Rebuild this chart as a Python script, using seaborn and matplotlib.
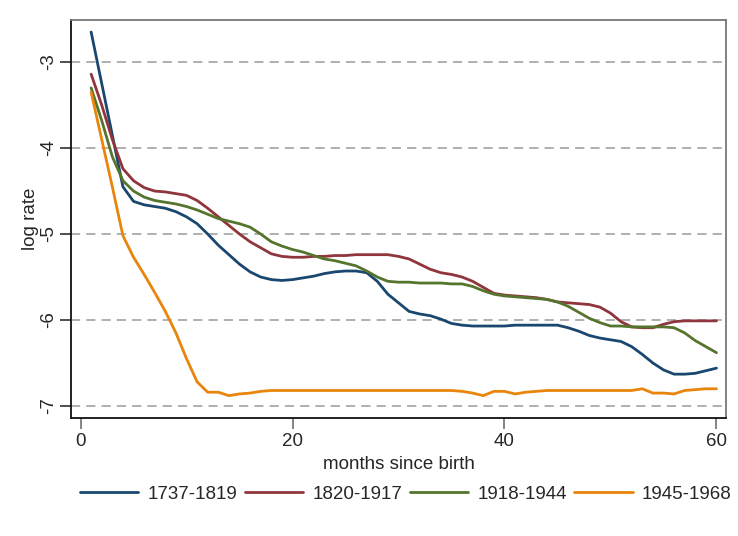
import numpy as np
import pandas as pd
import matplotlib
matplotlib.use("Agg")
import matplotlib.pyplot as plt
import seaborn as sns

months = list(range(1, 61))
series_names = ["1737-1819", "1820-1917", "1918-1944", "1945-1968"]

r1737 = [-2.65, -3.25, -3.85, -4.45, -4.62, -4.66, -4.68, -4.70, -4.74, -4.80,
         -4.88, -5.00, -5.13, -5.24, -5.35, -5.44, -5.50, -5.53, -5.54, -5.53,
         -5.51, -5.49, -5.46, -5.44, -5.43, -5.43, -5.45, -5.55, -5.70, -5.80,
         -5.90, -5.93, -5.95, -5.99, -6.04, -6.06, -6.07, -6.07, -6.07, -6.07,
         -6.06, -6.06, -6.06, -6.06, -6.06, -6.09, -6.13, -6.18, -6.21, -6.23,
         -6.25, -6.31, -6.40, -6.50, -6.58, -6.63, -6.63, -6.62, -6.59, -6.56]
r1820 = [-3.14, -3.50, -3.90, -4.24, -4.38, -4.46, -4.50, -4.51, -4.53, -4.55,
         -4.61, -4.70, -4.80, -4.90, -5.00, -5.09, -5.16, -5.23, -5.26, -5.27,
         -5.27, -5.26, -5.26, -5.25, -5.25, -5.24, -5.24, -5.24, -5.24, -5.26,
         -5.29, -5.35, -5.41, -5.45, -5.47, -5.50, -5.55, -5.62, -5.69, -5.71,
         -5.72, -5.73, -5.74, -5.76, -5.79, -5.80, -5.81, -5.82, -5.85, -5.92,
         -6.02, -6.08, -6.09, -6.09, -6.05, -6.02, -6.01, -6.01, -6.01, -6.01]
r1918 = [-3.30, -3.68, -4.10, -4.38, -4.50, -4.57, -4.61, -4.63, -4.65, -4.68,
         -4.72, -4.77, -4.82, -4.85, -4.88, -4.92, -5.00, -5.09, -5.14, -5.18,
         -5.21, -5.25, -5.29, -5.31, -5.34, -5.37, -5.43, -5.50, -5.55, -5.56,
         -5.56, -5.57, -5.57, -5.57, -5.58, -5.58, -5.61, -5.66, -5.70, -5.72,
         -5.73, -5.74, -5.75, -5.76, -5.79, -5.84, -5.91, -5.98, -6.03, -6.07,
         -6.07, -6.08, -6.08, -6.08, -6.08, -6.09, -6.15, -6.24, -6.31, -6.38]
r1945 = [-3.35, -3.90, -4.45, -5.02, -5.27, -5.47, -5.68, -5.90, -6.15, -6.45,
         -6.72, -6.84, -6.84, -6.88, -6.86, -6.85, -6.83, -6.82, -6.82, -6.82,
         -6.82, -6.82, -6.82, -6.82, -6.82, -6.82, -6.82, -6.82, -6.82, -6.82,
         -6.82, -6.82, -6.82, -6.82, -6.82, -6.83, -6.85, -6.88, -6.83, -6.83,
         -6.86, -6.84, -6.83, -6.82, -6.82, -6.82, -6.82, -6.82, -6.82, -6.82,
         -6.82, -6.82, -6.80, -6.85, -6.85, -6.86, -6.82, -6.81, -6.80, -6.80]

x_ticks = [0, 20, 40, 60]
y_ticks = [-3, -4, -5, -6, -7]
colors = ["#1a476f", "#90353b", "#55752f", "#e8850a"]

df = pd.concat([
    pd.DataFrame({"month": months, "rate": vals, "cohort": name})
    for name, vals in zip(series_names, [r1737, r1820, r1918, r1945])
], ignore_index=True)

sns.set_style("white")
plt.rcParams["font.family"] = ["Liberation Sans", "DejaVu Sans"]
FS = 13.5

fig = plt.figure(figsize=(7.38, 5.36), dpi=100)
ax = fig.add_axes([71/738, 1 - 418/536, (726 - 71)/738, (418 - 20)/536])

sns.lineplot(data=df, x="month", y="rate", hue="cohort", hue_order=series_names,
             palette=colors, linewidth=2.0, ax=ax, legend=True)

ax.set_xlim(-0.9, 60.9)
ax.set_ylim(-7.14, -2.51)
ax.set_xticks(x_ticks)
ax.set_xticklabels([str(t) for t in x_ticks], fontsize=FS)
ax.set_yticks(y_ticks)
ax.set_yticklabels([str(t) for t in y_ticks], fontsize=FS, rotation=90, va="center")
for y in y_ticks:
    ax.axhline(y, color="#9a9a9a", linestyle=(0, (6, 4)), linewidth=1.1, zorder=0)

ax.tick_params(axis="both", direction="out", length=8, width=1.2, pad=3,
               bottom=True, left=True)
ax.tick_params(axis="x", color="#707070")
ax.tick_params(axis="y", color="#303030", pad=2)
ax.set_xlabel("months since birth", fontsize=FS, labelpad=4)
ax.set_ylabel("log rate", fontsize=FS, labelpad=1)

for side in ["left", "bottom"]:
    ax.spines[side].set_color("#111111")
    ax.spines[side].set_linewidth(1.3)
for side in ["top", "right"]:
    ax.spines[side].set_color("#777777")
    ax.spines[side].set_linewidth(1.3)

handles, labels = ax.get_legend_handles_labels()
ax.get_legend().remove()
fig.legend(handles, labels, loc="center", bbox_to_anchor=(406/738, 1 - 494/536),
           ncol=4, frameon=False, fontsize=FS, handlelength=3.1,
           columnspacing=0.4, handletextpad=0.5, borderpad=0, borderaxespad=0)

fig.savefig("out.png", dpi=100, facecolor="white")
